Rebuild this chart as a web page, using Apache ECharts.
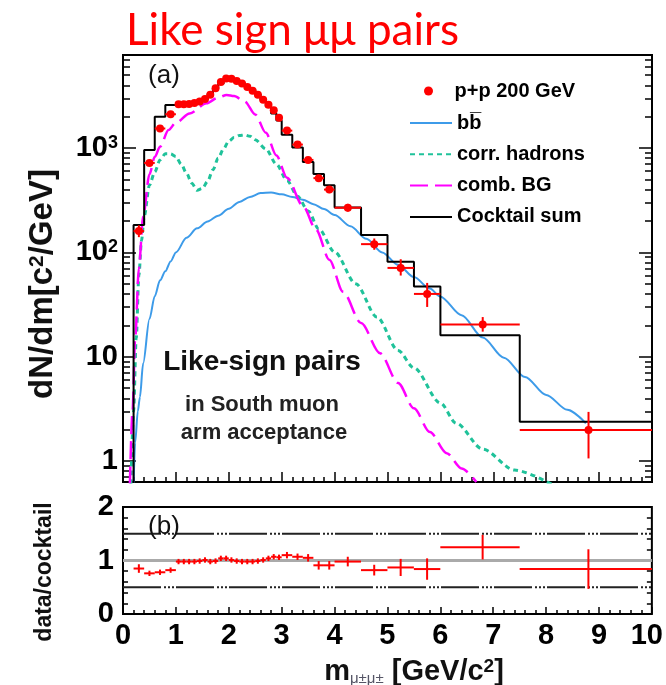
<!DOCTYPE html>
<html><head><meta charset="utf-8">
<script src="https://cdn.jsdelivr.net/npm/echarts@6/dist/echarts.min.js"></script>
<style>html,body{margin:0;padding:0;background:#fff}#c{width:666px;height:685px}</style>
</head><body><div id="c"></div><script>
// ---- bins (GeV/c^2) ----
const binLo = [0.2,0.4,0.6,0.8, 1.0,1.1,1.2,1.3,1.4,1.5,1.6,1.7,1.8,1.9,2.0,2.1,2.2,2.3,2.4,2.5,2.6,2.7,2.8,2.9, 3.0,3.2,3.4,3.6,3.8, 4.0,4.5,5.0,5.5, 6.0,7.5];
const binHi = [0.4,0.6,0.8,1.0, 1.1,1.2,1.3,1.4,1.5,1.6,1.7,1.8,1.9,2.0,2.1,2.2,2.3,2.4,2.5,2.6,2.7,2.8,2.9,3.0, 3.2,3.4,3.6,3.8,4.0, 4.5,5.0,5.5,6.0, 7.5,10];
const dataX = [0.3,0.5,0.7,0.9, 1.05,1.15,1.25,1.35,1.45,1.55,1.65,1.75,1.85,1.95,2.05,2.15,2.25,2.35,2.45,2.55,2.65,2.75,2.85,2.95, 3.1,3.3,3.5,3.7,3.9, 4.25,4.75,5.25,5.75, 6.8,8.8];
// ---- p+p 200 GeV data ----
const dataVal = [160,720,1540,2110, 2630,2630,2650,2700,2800,2950,3250,3750,4300,4650,4620,4400,4150,3850,3550,3250,2900,2600,2300,1950, 1470,1080,770,515,400, 268,120,71,40, 20.4,1.98];
const dataErrLo = [20,45,80,100, 90,90,90,90,95,100,105,115,130,140,140,135,130,120,115,110,100,95,90,80, 70,55,45,35,30, 22,14,11,10, 3.0,0.92];
const dataErrHi = [22,50,90,110, 90,90,90,90,95,100,105,115,130,140,140,135,130,120,115,110,100,95,90,80, 75,60,48,38,32, 24,16,15,11, 3.6,0.98];
// ---- cocktail sum per bin ----
const cocktailVal = [183,960,2000,2590, 2680,2680,2700,2750,2830,2920,3320,3790,4130,4470,4570,4440,4230,3930,3620,3280,2870,2500,2150,1840, 1340,1010,735,565,440, 270,147,81.5,47, 16.1,2.38];
// ---- data / cocktail ----
const ratioVal = [0.85,0.76,0.78,0.82, 0.98,0.98,0.98,0.98,0.99,1.01,0.98,0.99,1.04,1.04,1.01,0.99,0.98,0.98,0.98,0.99,1.01,1.04,1.07,1.06, 1.10,1.07,1.05,0.91,0.91, 0.98,0.82,0.87,0.84, 1.25,0.84];
const ratioErr = [0.08,0.05,0.05,0.05, 0.05,0.05,0.05,0.05,0.05,0.05,0.05,0.05,0.05,0.05,0.05,0.05,0.05,0.05,0.05,0.05,0.05,0.05,0.05,0.05, 0.06,0.06,0.07,0.08,0.08, 0.09,0.10,0.16,0.20, 0.23,0.37];
const ratioRefLines = [0.5, 1.0, 1.5];
// ---- bb-bar ----
const bbX = [0.2,0.23,0.28,0.32,0.38,0.5,0.6,0.7,0.8,0.9,1.0,1.2,1.4,1.6,1.8,2.0,2.2,2.4,2.6,2.8,3.0,3.2,3.4,3.6,3.8,4.0,4.3,4.6,4.9,5.2,5.5,5.8,6.0,6.4,6.8,7.2,7.6,8.0,8.4,8.75];
const bbY = [0.6,1.5,3.0,4.1,8.6,23,38,54,66,82,100,138,170,198,225,262,305,340,370,375,360,340,320,290,260,228,178,135,100,76,58,45,37.6,25,15.3,9.8,6.4,4.3,3.1,2.3];
// ---- corr. hadrons ----
const corrX = [0.15,0.2,0.25,0.3,0.35,0.4,0.5,0.6,0.7,0.8,0.9,1.0,1.1,1.2,1.3,1.4,1.5,1.6,1.7,1.8,1.9,2.0,2.1,2.2,2.3,2.4,2.5,2.7,2.9,3.1,3.3,3.5,3.7,4.0,4.4,4.8,5.2,5.5,6.0,6.3,6.8,7.4,8.1];
const corrY = [0.6,3,15,60,130,220,440,590,770,880,880,830,700,575,460,395,410,480,620,800,980,1170,1260,1320,1336,1300,1200,980,700,490,345,250,168,101,50,24,11.5,7.8,3.6,2.3,1.3,0.82,0.6];
// ---- comb. BG ----
const combX = [0.13,0.18,0.23,0.3,0.38,0.5,0.6,0.7,0.86,1.0,1.26,1.58,1.8,1.96,2.1,2.3,2.5,2.7,2.9,3.1,3.4,3.65,3.9,4.16,4.5,4.86,5.2,5.5,5.8,6.12,6.4,6.68];
const combY = [0.6,3,15,70,220,560,820,1030,1490,1750,2150,2690,3050,3230,3150,2800,2100,1400,850,520,280,165,85,42,21,10.8,5.6,3.2,1.9,1.19,0.85,0.63];
// ---- axes / ticks ----
const yMajorTicks = [1,10,100,1000];
const yMajorLabels = ['1','10','10{s|2}','10{s|3}'];
const yMinorTicks = [0.7,0.8,0.9,2,3,4,5,6,7,8,9,20,30,40,50,60,70,80,90,200,300,400,500,600,700,800,900,2000,3000,4000,5000,6000,7000];
const legendNames = ['p+p 200 GeV','b\u0062\u0305','corr. hadrons','comb. BG','Cocktail sum'];
const titleText = 'Like sign \u03bc\u03bc pairs';

const F = 'Liberation Sans, Arial, Helvetica, sans-serif';
const zip = (a,b) => a.map((v,i)=>[v,b[i]]);

const stepData = [[binLo[0], 0.1]];
binLo.forEach((lo,i)=>{ stepData.push([lo,cocktailVal[i]]); stepData.push([binHi[i],cocktailVal[i]]); });

const dataErrPts = dataX.map((x,i)=>[x,dataVal[i],binLo[i],binHi[i],dataVal[i]-dataErrLo[i],dataVal[i]+dataErrHi[i]]);
const ratioErrPts = dataX.map((x,i)=>[x,ratioVal[i],binLo[i],binHi[i],ratioVal[i]-ratioErr[i],ratioVal[i]+ratioErr[i]]);

function crossRender(params, api){
  const c = api.coord([api.value(0), api.value(1)]);
  const l = api.coord([api.value(2), api.value(1)]);
  const r = api.coord([api.value(3), api.value(1)]);
  const lo = api.coord([api.value(0), api.value(4)]);
  const hi = api.coord([api.value(0), api.value(5)]);
  const st = {stroke:'#ff0000', lineWidth:2};
  return {type:'group', children:[
    {type:'line', shape:{x1:l[0],y1:c[1],x2:r[0],y2:c[1]}, style:st},
    {type:'line', shape:{x1:c[0],y1:lo[1],x2:c[0],y2:hi[1]}, style:st}
  ]};
}

const tickStyle = {color:'#000', width:1.5};
const logBase = {type:'log', logBase:10, min:0.63, max:7800, gridIndex:0, splitLine:{show:false}, axisLine:{show:false}};
const xBase = {type:'value', min:0, max:10, interval:1, splitLine:{show:false}, axisLine:{show:false, onZero:false}};
const legText = {fontSize:20, fontWeight:'bold', fontFamily:F, color:'#000', lineHeight:22};

const chart = echarts.init(document.getElementById('c'), null, {renderer:'canvas'});
chart.setOption({
  animation:false,
  backgroundColor:'#fff',
  title:{text:titleText, left:121, top:4, textStyle:{color:'#ff0000', fontSize:44, fontWeight:'normal', fontFamily:'Lato, Noto Sans, sans-serif'}},
  grid:[
    {left:123, top:55, width:529, height:427, show:true, borderColor:'#000', borderWidth:2, backgroundColor:'transparent'},
    {left:123, top:507, width:529, height:107, show:true, borderColor:'#000', borderWidth:2, backgroundColor:'transparent'}
  ],
  xAxis:[
    {...xBase, gridIndex:0, position:'bottom', axisLabel:{show:false},
      axisTick:{inside:true, length:10, lineStyle:tickStyle}, minorTick:{show:true, splitNumber:5, length:5, lineStyle:tickStyle}},
    {...xBase, gridIndex:1, position:'bottom',
      axisLabel:{margin:7, color:'#000', fontSize:29, fontWeight:'bold', fontFamily:F,
        formatter:v=> v===10 ? '{r|10}' : String(v), rich:{r:{fontSize:29, fontWeight:'bold', fontFamily:F, color:'#000', padding:[0,10,0,0]}}},
      axisTick:{inside:true, length:7, lineStyle:tickStyle}, minorTick:{show:true, splitNumber:5, length:4, lineStyle:tickStyle}}
  ],
  yAxis:[
    {...logBase, position:'left',
      axisTick:{inside:true, length:13, customValues:yMajorTicks, lineStyle:tickStyle},
      axisLabel:{customValues:yMajorTicks, margin:5, color:'#000', fontSize:29, fontWeight:'bold', fontFamily:F,
        formatter:v=>{ const i = yMajorTicks.findIndex(t=>Math.abs(t-v)/t<1e-6); return i<0 ? '' : yMajorLabels[i]; },
        rich:{s:{fontSize:18, fontWeight:'bold', fontFamily:F, color:'#000', verticalAlign:'top', lineHeight:16}}}},
    {...logBase, position:'left', axisLabel:{show:false},
      axisTick:{inside:true, length:7, customValues:yMinorTicks, lineStyle:tickStyle}},
    {...logBase, position:'right', axisLabel:{show:false},
      axisTick:{inside:true, length:13, customValues:yMajorTicks, lineStyle:tickStyle}},
    {...logBase, position:'right', axisLabel:{show:false},
      axisTick:{inside:true, length:7, customValues:yMinorTicks, lineStyle:tickStyle}},
    {type:'value', gridIndex:1, min:0, max:2, interval:1, position:'left', splitLine:{show:false}, axisLine:{show:false},
      axisLabel:{margin:9, color:'#000', fontSize:29, fontWeight:'bold', fontFamily:F},
      axisTick:{inside:true, length:9, lineStyle:tickStyle}, minorTick:{show:true, splitNumber:5, length:5, lineStyle:tickStyle}},
    {type:'value', gridIndex:1, min:0, max:2, interval:1, position:'right', splitLine:{show:false}, axisLine:{show:false},
      axisLabel:{show:false},
      axisTick:{inside:true, length:9, lineStyle:tickStyle}, minorTick:{show:true, splitNumber:5, length:5, lineStyle:tickStyle}}
  ],
  legend:[
    {data:[legendNames[0]], orient:'vertical', left:419, top:75, itemWidth:42, itemHeight:9, itemGap:9,
      textStyle:legText, selectedMode:false},
    {data:legendNames.slice(1), orient:'vertical', left:404, top:107, itemWidth:42, itemHeight:14, itemGap:9.3,
      itemStyle:{opacity:0}, textStyle:legText, selectedMode:false}
  ],
  graphic:[
    {type:'text', x:164, y:76, style:{text:'(a)', font:'26px '+F, fill:'#111', align:'center', verticalAlign:'middle', textAlign:'center', textVerticalAlign:'middle'}, z:100},
    {type:'text', x:164, y:527, style:{text:'(b)', font:'26px '+F, fill:'#111', align:'center', verticalAlign:'middle', textAlign:'center', textVerticalAlign:'middle'}, z:100},
    {type:'text', x:262, y:362, style:{text:'Like-sign pairs', font:'bold 28px '+F, fill:'#111', align:'center', verticalAlign:'middle', textAlign:'center', textVerticalAlign:'middle'}, z:100},
    {type:'text', x:262, y:405, style:{text:'in South muon', font:'bold 22px '+F, fill:'#222', align:'center', verticalAlign:'middle', textAlign:'center', textVerticalAlign:'middle'}, z:100},
    {type:'text', x:264, y:433, style:{text:'arm acceptance', font:'bold 22px '+F, fill:'#222', align:'center', verticalAlign:'middle', textAlign:'center', textVerticalAlign:'middle'}, z:100},
    {type:'text', x:43, y:284, rotation:Math.PI/2, style:{text:'dN/dm[c{p|2}/GeV]', font:'bold 33px '+F, fill:'#111', align:'center', verticalAlign:'middle', textAlign:'center', textVerticalAlign:'middle',
      rich:{p:{font:'bold 21px '+F, fill:'#111', verticalAlign:'top', lineHeight:20}}}, z:100},
    {type:'text', x:45, y:572, rotation:Math.PI/2, style:{text:'data/cocktail', font:'bold 23px '+F, fill:'#111', align:'center', verticalAlign:'middle', textAlign:'center', textVerticalAlign:'middle'}, z:100},
    {type:'text', x:414, y:672, style:{text:'m{s|\u03bc\u00b1\u03bc\u00b1} [GeV/c{p|2}]', font:'bold 29px '+F, fill:'#111', align:'center', verticalAlign:'middle', textAlign:'center', textVerticalAlign:'middle',
      rich:{s:{font:'15px '+F, fill:'#556', verticalAlign:'bottom', lineHeight:12}, p:{font:'bold 19px '+F, fill:'#111', verticalAlign:'top', lineHeight:16}}}, z:100}
  ],
  series:[
    {type:'line', name:legendNames[1], xAxisIndex:0, yAxisIndex:0, data:zip(bbX,bbY), smooth:0.3, smoothMonotone:'x', symbol:'none', showSymbol:false,
      lineStyle:{color:'#3d9be9', width:2}, itemStyle:{color:'#3d9be9'}, z:2},
    {type:'line', name:legendNames[2], xAxisIndex:0, yAxisIndex:0, data:zip(corrX,corrY), smooth:0.3, smoothMonotone:'x', symbol:'none', showSymbol:false,
      lineStyle:{color:'#1fc29a', width:3, type:[5,4]}, itemStyle:{color:'#1fc29a'}, z:2},
    {type:'line', name:legendNames[3], xAxisIndex:0, yAxisIndex:0, data:zip(combX,combY), smooth:0.3, smoothMonotone:'x', symbol:'none', showSymbol:false,
      lineStyle:{color:'#ff00ff', width:2.5, type:[18,7]}, itemStyle:{color:'#ff00ff'}, z:2},
    {type:'line', name:legendNames[4], xAxisIndex:0, yAxisIndex:0, data:stepData, symbol:'none', showSymbol:false,
      lineStyle:{color:'#000', width:2}, itemStyle:{color:'#000'}, z:3},
    {type:'custom', name:'dataErr', xAxisIndex:0, yAxisIndex:0, data:dataErrPts, renderItem:crossRender, encode:{x:0,y:1}, clip:true, z:4},
    {type:'scatter', name:legendNames[0], xAxisIndex:0, yAxisIndex:0, data:zip(dataX,dataVal), symbol:'circle', symbolSize:8,
      itemStyle:{color:'#ff0000', opacity:1}, z:5},
    ...ratioRefLines.map(v=>({type:'line', xAxisIndex:1, yAxisIndex:4, data:[[0,v],[10,v]], symbol:'none', silent:true,
      lineStyle: v===1 ? {color:'#aaaaaa', width:3} : {color:'#222', width:2, type:[38,3,2,2,2,2,2,2]}, z:2})),
    {type:'custom', name:'ratioErr', xAxisIndex:1, yAxisIndex:4, data:ratioErrPts, renderItem:crossRender, encode:{x:0,y:1}, clip:true, z:4}
  ]
});
</script></body></html>
